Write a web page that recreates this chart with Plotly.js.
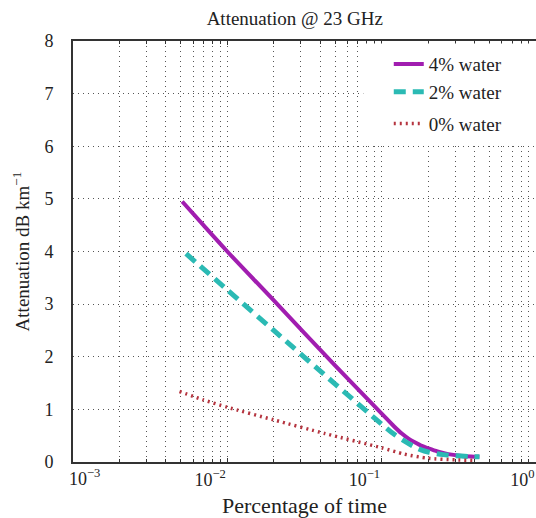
<!DOCTYPE html>
<html>
<head>
<meta charset="utf-8">
<script src="https://cdn.plot.ly/plotly-3.0.1.min.js"></script>
<style>html,body{margin:0;padding:0;overflow:hidden;background:#fff;}</style>
</head>
<body>
<div id="chart" style="width:536px;height:518px;"></div>
<script>
// Percentage of time (x) and attenuation in dB/km (y)
const pct4 = [0.0051, 0.007, 0.01, 0.02, 0.05, 0.1, 0.12, 0.135, 0.15, 0.165, 0.18, 0.2, 0.23, 0.27, 0.32, 0.38, 0.43];
const att4 = [4.95, 4.5, 4.0, 3.07, 1.83, 0.92, 0.68, 0.54, 0.44, 0.37, 0.31, 0.26, 0.2, 0.15, 0.12, 0.105, 0.1];

const pct2 = [0.0054, 0.01, 0.02, 0.05, 0.1, 0.12, 0.14, 0.16, 0.18, 0.2, 0.25, 0.3, 0.37, 0.43];
const att2 = [3.96, 3.27, 2.5, 1.48, 0.72, 0.53, 0.4, 0.3, 0.23, 0.19, 0.14, 0.12, 0.105, 0.1];

const pct0 = [0.0049, 0.007, 0.01, 0.02, 0.043, 0.1, 0.14, 0.2, 0.3, 0.4];
const att0 = [1.34, 1.18, 1.04, 0.8, 0.54, 0.27, 0.15, 0.07, 0.04, 0.03];

const seriesNames = ["4% water", "2% water", "0% water"];
const xTickVals = [0.01, 0.1, 1];
const xTickText = ["10<sup>−2</sup>", "10<sup>−1</sup>", "10<sup>0</sup>"];
const xFirstTickText = "10<sup>−3</sup>";

const font = "\"Liberation Serif\", \"Times New Roman\", serif";
const gridDash = "1px,4px";
const gridColor = "#555";

const traces = [
  {x: pct4, y: att4, name: seriesNames[0], mode: "lines", legendgroup: "a",
   line: {color: "#A11DB0", width: 4, shape: "spline", smoothing: 0.8}},
  {x: pct2, y: att2, name: seriesNames[1], mode: "lines", legendgroup: "a",
   line: {color: "#2BBAB4", width: 5, dash: "12px,7px", shape: "spline", smoothing: 0.8}},
  {x: pct0, y: att0, name: seriesNames[2], mode: "lines", legendgroup: "b",
   line: {color: "#B5343F", width: 3.5, dash: "2px,4px", shape: "spline", smoothing: 0.6}}
];

const layout = {
  width: 536, height: 518,
  margin: {l: 73, r: 0, t: 41, b: 56},
  paper_bgcolor: "#fff", plot_bgcolor: "#fff",
  font: {family: font, color: "#222", size: 18},
  showlegend: true,
  title: {text: "Attenuation @ 23 GHz", font: {family: font, size: 19, color: "#222"},
          x: 0.55, xref: "container", xanchor: "center", y: 0.965, yref: "container", yanchor: "middle"},
  xaxis: {
    type: "log", range: [-3, 0],
    tickmode: "array", tickvals: xTickVals, ticktext: xTickText,
    ticklabelposition: "outside left",
    tickfont: {family: font, size: 18, color: "#222"},
    ticks: "inside", ticklen: 4, tickcolor: "#333",
    showline: true, linecolor: "#333", linewidth: 2, mirror: "ticks",
    showgrid: true, gridcolor: gridColor, griddash: gridDash, gridwidth: 1,
    minor: {dtick: "D1", showgrid: true, gridcolor: gridColor, griddash: gridDash, gridwidth: 1,
            ticks: "inside", ticklen: 3, tickcolor: "#333"},
    zeroline: false,
    title: {text: "Percentage of time", font: {family: font, size: 22, color: "#222"}, standoff: 10}
  },
  yaxis: {
    range: [0, 8], dtick: 1, tick0: 0,
    tickfont: {family: font, size: 18, color: "#222"},
    ticks: "", ticklabelstandoff: 14,
    showline: true, linecolor: "#333", linewidth: 2, mirror: false,
    showgrid: true, gridcolor: gridColor, griddash: gridDash, gridwidth: 1,
    zeroline: false,
    title: {text: "Attenuation dB km<sup>−1</sup>", font: {family: font, size: 19, color: "#222"}, standoff: 10}
  },
  legend: {
    x: 0.682, xanchor: "left", y: 0.99, yanchor: "top",
    bgcolor: "rgba(255,255,255,0)", borderwidth: 0,
    font: {family: font, size: 19, color: "#222"},
    traceorder: "grouped", tracegroupgap: 4
  },
  annotations: [
    {text: xFirstTickText, xref: "paper", yref: "paper", x: 0, y: 0, xanchor: "left", yanchor: "top",
     xshift: -6, yshift: -2, showarrow: false, font: {family: font, size: 18, color: "#222"}}
  ],
  shapes: [
    {type: "rect", xref: "paper", yref: "paper", x0: 0.627, x1: 1.0, y0: 0.755, y1: 0.994,
     fillcolor: "#fff", line: {width: 0}, layer: "above"}
  ]
};

Plotly.newPlot("chart", traces, layout, {displayModeBar: false, staticPlot: true});
</script>
</body>
</html>
